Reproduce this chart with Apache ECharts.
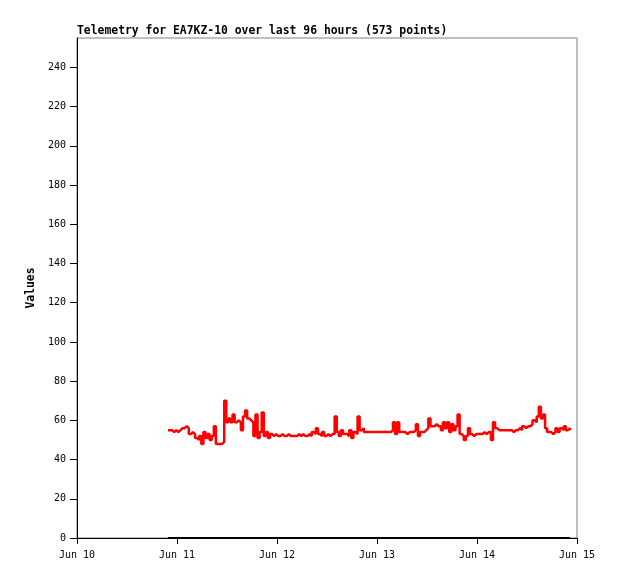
<!DOCTYPE html>
<html>
<head>
<meta charset="utf-8">
<script src="https://cdn.jsdelivr.net/npm/echarts@6/dist/echarts.min.js"></script>
<style>html,body{margin:0;padding:0;background:#fff}#c{width:618px;height:579px}</style>
</head>
<body>
<div id="c"></div>
<script>
var titleText = 'Telemetry for EA7KZ-10 over last 96 hours (573 points)';
var yName = 'Values';
var startTime = '2024-06-10T21:50:00Z';
var endTime = '2024-06-14T22:20:00Z';
var stepMinutes = 30;
var axisStart = '2024-06-10T00:00:00Z';
var axisEnd = '2024-06-15T00:00:00Z';
var monthNames = ['Jan','Feb','Mar','Apr','May','Jun','Jul','Aug','Sep','Oct','Nov','Dec'];
var yTicks = [0, 20, 40, 60, 80, 100, 120, 140, 160, 180, 200, 220, 240];
var telemetry = [
  55,55,54,55,54,55, 56,56,57,56, 53,54,53, 51,50,52,48,
  54,51,53,50,52,57, 48,48,48,49, 70,
  59,61,59,63,59,60,59, 55, 62,65,61,60,59,
  52,63,51,54,64, 52,54,51,53,
  52,53,52,52,53,52,52,53,52,52,
  52,52,53,52,53,52,52,53,52,54,
  53,56,53,52,54,52,53,52,53,53,
  62,54,52,55,53,53,52,55,51,54,
  53,62,55,56,54,
  54,54,54,54,54,54,54,54,54,54,54,
  54,55,59,53,59,54,54,54,53,54,
  54,54,55,58,52,54,54,55,56,61,
  57,57,58,57,57,55,59,56,59,54,
  58,55,57,63,53,52,50,52,56,53,
  52,53,53,53,53,54,53,54,54,50,
  59,56,55,55,55,55,55,55,55,54,
  55,55,56,55,57,56,57,57,58,60,
  59,62,67,61,63,56,54,54,53,54,
  56,54,56,55,57,55,56,55
];
var channel2 = [[startTime, 0], [endTime, 0]];

var t0 = Date.parse(startTime);
var redData = telemetry.map(function (v, i) { return [t0 + i * stepMinutes * 60000, v]; });
var blackData = channel2.map(function (p) { return [Date.parse(p[0]), p[1]]; });

var chart = echarts.init(document.getElementById('c'), null, {renderer: 'canvas'});
chart.setOption({
  animation: false,
  backgroundColor: '#fff',
  title: {
    text: titleText, left: 77, top: 26, padding: 0,
    textStyle: {fontFamily: 'DejaVu Sans Mono', fontSize: 11.4, fontWeight: 'bold', color: '#000'}
  },
  grid: {left: 77, right: 41, top: 38, bottom: 41, show: true, borderColor: '#808080', borderWidth: 1, backgroundColor: 'transparent'},
  xAxis: {
    type: 'value',
    min: Date.parse(axisStart), max: Date.parse(axisEnd), interval: 86400000,
    axisLine: {show: true, lineStyle: {color: '#000', width: 1}},
    axisTick: {show: true, length: 6, lineStyle: {color: '#000'}},
    splitLine: {show: false},
    axisLabel: {
      color: '#000', fontFamily: 'DejaVu Sans Mono', fontSize: 10, margin: 12,
      formatter: function (v) { var d = new Date(v); return monthNames[d.getUTCMonth()] + ' ' + d.getUTCDate(); }
    }
  },
  yAxis: {
    type: 'value', min: 0, max: 255, interval: 20,
    name: yName, nameLocation: 'middle', nameGap: 38,
    nameTextStyle: {fontFamily: 'DejaVu Sans Mono', fontSize: 11.4, fontWeight: 'bold', color: '#000'},
    axisLine: {show: true, lineStyle: {color: '#000', width: 1}},
    axisTick: {show: true, length: 7, lineStyle: {color: '#000'}, customValues: yTicks},
    splitLine: {show: false},
    axisLabel: {
      color: '#000', fontFamily: 'DejaVu Sans Mono', fontSize: 10, margin: 11,
      customValues: yTicks
    }
  },
  series: [
    {type: 'line', data: blackData, showSymbol: false, symbol: 'none', lineStyle: {color: '#000', width: 2}, z: 2},
    {type: 'line', data: redData, step: 'end', showSymbol: false, symbol: 'none', lineStyle: {color: '#ff0000', width: 2.5}, z: 3}
  ]
});
</script>
</body>
</html>
